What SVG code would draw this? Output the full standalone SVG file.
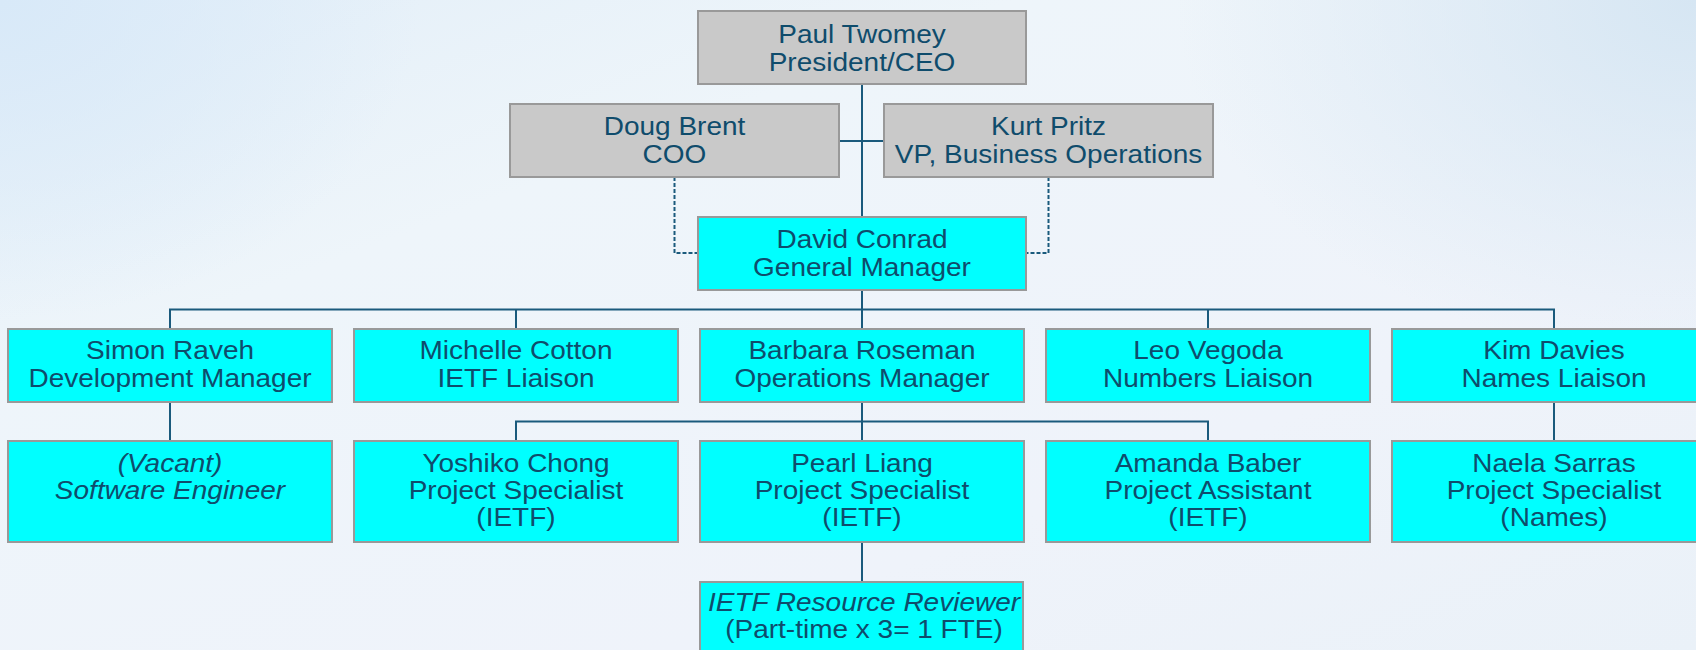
<svg xmlns="http://www.w3.org/2000/svg" width="1696" height="650" viewBox="0 0 1696 650">
  <defs>
    <linearGradient id="bg" x1="0" y1="0" x2="1" y2="1">
      <stop offset="0" stop-color="#e2eef8"/>
      <stop offset="0.3" stop-color="#eef5fa"/>
      <stop offset="0.7" stop-color="#eff3fa"/>
      <stop offset="1" stop-color="#eaf1f8"/>
    </linearGradient>
    <radialGradient id="tl" cx="0" cy="0" r="1" gradientUnits="userSpaceOnUse" gradientTransform="translate(0 0) scale(420 320)">
      <stop offset="0" stop-color="#d8e9f8" stop-opacity="1"/>
      <stop offset="1" stop-color="#d8e9f8" stop-opacity="0"/>
    </radialGradient>
    <radialGradient id="tr" cx="0" cy="0" r="1" gradientUnits="userSpaceOnUse" gradientTransform="translate(1696 0) scale(520 360)">
      <stop offset="0" stop-color="#d6e6f3" stop-opacity="1"/>
      <stop offset="1" stop-color="#d6e6f3" stop-opacity="0"/>
    </radialGradient>
    <style>
      .gray { fill: #c9c9c9; stroke: #999999; stroke-width: 2; }
      .cyan { fill: #00ffff; stroke: #999999; stroke-width: 2; }
      .lbl { font-family: "Liberation Sans", Arial, sans-serif; font-size: 25px; fill: #0f4c6c; text-anchor: middle; }
      .it { font-style: italic; }
      .conn { fill: none; stroke: #1a5a7c; stroke-width: 2; }
      .dash { fill: none; stroke: #1a5a7c; stroke-width: 2; stroke-dasharray: 4 2; }
    </style>
  </defs>

  <rect x="0" y="0" width="1696" height="650" fill="url(#bg)"/>
  <rect x="0" y="0" width="1696" height="650" fill="url(#tl)"/>
  <rect x="0" y="0" width="1696" height="650" fill="url(#tr)"/>

  <g id="connectors">
    <path class="conn" d="M862 84 V217"/>
    <path class="conn" d="M839 141 H884"/>
    <path class="conn" d="M862 290 V329"/>
    <path class="conn" d="M170 329 V309.5 H1554 V329"/>
    <path class="conn" d="M516 309.5 V329"/>
    <path class="conn" d="M1208 309.5 V329"/>
    <path class="conn" d="M170 402 V441"/>
    <path class="conn" d="M862 402 V441"/>
    <path class="conn" d="M516 441 V421.5 H1208 V441"/>
    <path class="conn" d="M1554 402 V441"/>
    <path class="conn" d="M862 542 V582"/>
    <path class="dash" d="M674.5 177 V253 H698"/>
    <path class="dash" d="M1048.5 177 V253 H1026"/>
  </g>

  <g id="paul">
    <rect class="gray" x="698" y="11" width="328" height="73"/>
    <g transform="translate(862 0) scale(1.12 1)">
      <text class="lbl" x="0" y="43">Paul Twomey</text>
      <text class="lbl" x="0" y="71">President/CEO</text>
    </g>
  </g>

  <g id="doug">
    <rect class="gray" x="510" y="104" width="329" height="73"/>
    <g transform="translate(674.5 0) scale(1.12 1)">
      <text class="lbl" x="0" y="135">Doug Brent</text>
      <text class="lbl" x="0" y="163">COO</text>
    </g>
  </g>

  <g id="kurt">
    <rect class="gray" x="884" y="104" width="329" height="73"/>
    <g transform="translate(1048.5 0) scale(1.12 1)">
      <text class="lbl" x="0" y="135">Kurt Pritz</text>
      <text class="lbl" x="0" y="163">VP, Business Operations</text>
    </g>
  </g>

  <g id="david">
    <rect class="cyan" x="698" y="217" width="328" height="73"/>
    <g transform="translate(862 0) scale(1.12 1)">
      <text class="lbl" x="0" y="248">David Conrad</text>
      <text class="lbl" x="0" y="276">General Manager</text>
    </g>
  </g>

  <g id="simon">
    <rect class="cyan" x="8" y="329" width="324" height="73"/>
    <g transform="translate(170 0) scale(1.12 1)">
      <text class="lbl" x="0" y="359">Simon Raveh</text>
      <text class="lbl" x="0" y="387.5">Development Manager</text>
    </g>
  </g>

  <g id="michelle">
    <rect class="cyan" x="354" y="329" width="324" height="73"/>
    <g transform="translate(516 0) scale(1.12 1)">
      <text class="lbl" x="0" y="359">Michelle Cotton</text>
      <text class="lbl" x="0" y="387.5">IETF Liaison</text>
    </g>
  </g>

  <g id="barbara">
    <rect class="cyan" x="700" y="329" width="324" height="73"/>
    <g transform="translate(862 0) scale(1.12 1)">
      <text class="lbl" x="0" y="359">Barbara Roseman</text>
      <text class="lbl" x="0" y="387.5">Operations Manager</text>
    </g>
  </g>

  <g id="leo">
    <rect class="cyan" x="1046" y="329" width="324" height="73"/>
    <g transform="translate(1208 0) scale(1.12 1)">
      <text class="lbl" x="0" y="359">Leo Vegoda</text>
      <text class="lbl" x="0" y="387.5">Numbers Liaison</text>
    </g>
  </g>

  <g id="kim">
    <rect class="cyan" x="1392" y="329" width="324" height="73"/>
    <g transform="translate(1554 0) scale(1.12 1)">
      <text class="lbl" x="0" y="359">Kim Davies</text>
      <text class="lbl" x="0" y="387.5">Names Liaison</text>
    </g>
  </g>

  <g id="vacant">
    <rect class="cyan" x="8" y="441" width="324" height="101"/>
    <g transform="translate(170 0) scale(1.12 1)">
      <text class="lbl it" x="0" y="472.5">(Vacant)</text>
      <text class="lbl it" x="0" y="499.5">Software Engineer</text>
    </g>
  </g>

  <g id="yoshiko">
    <rect class="cyan" x="354" y="441" width="324" height="101"/>
    <g transform="translate(516 0) scale(1.12 1)">
      <text class="lbl" x="0" y="472.5">Yoshiko Chong</text>
      <text class="lbl" x="0" y="499.5">Project Specialist</text>
      <text class="lbl" x="0" y="526.5">(IETF)</text>
    </g>
  </g>

  <g id="pearl">
    <rect class="cyan" x="700" y="441" width="324" height="101"/>
    <g transform="translate(862 0) scale(1.12 1)">
      <text class="lbl" x="0" y="472.5">Pearl Liang</text>
      <text class="lbl" x="0" y="499.5">Project Specialist</text>
      <text class="lbl" x="0" y="526.5">(IETF)</text>
    </g>
  </g>

  <g id="amanda">
    <rect class="cyan" x="1046" y="441" width="324" height="101"/>
    <g transform="translate(1208 0) scale(1.12 1)">
      <text class="lbl" x="0" y="472.5">Amanda Baber</text>
      <text class="lbl" x="0" y="499.5">Project Assistant</text>
      <text class="lbl" x="0" y="526.5">(IETF)</text>
    </g>
  </g>

  <g id="naela">
    <rect class="cyan" x="1392" y="441" width="324" height="101"/>
    <g transform="translate(1554 0) scale(1.12 1)">
      <text class="lbl" x="0" y="472.5">Naela Sarras</text>
      <text class="lbl" x="0" y="499.5">Project Specialist</text>
      <text class="lbl" x="0" y="526.5">(Names)</text>
    </g>
  </g>

  <g id="reviewer">
    <rect class="cyan" x="700" y="582" width="323" height="80"/>
    <g transform="translate(864 0) scale(1.12 1)">
      <text class="lbl it" x="0" y="611">IETF Resource Reviewer</text>
      <text class="lbl" x="0" y="638.5">(Part-time x 3= 1 FTE)</text>
    </g>
  </g>
</svg>
